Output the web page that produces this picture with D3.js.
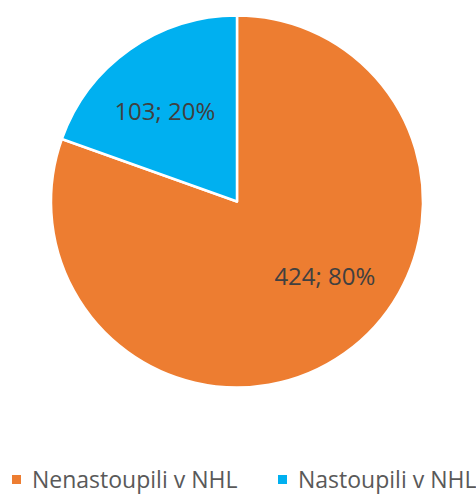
<!DOCTYPE html>
<html>
<head>
<meta charset="utf-8">
<script src="https://cdn.jsdelivr.net/npm/d3@7"></script>
<style>
  body { margin: 0; background: #fff; }
  svg { display: block; font-family: "Open Sans", sans-serif; }
</style>
</head>
<body>
<div id="chart"></div>
<script>
var categories = ["Nenastoupili v NHL", "Nastoupili v NHL"];
var values = [424, 103];
var colors = ["#ED7D31", "#00B0F0"];

var width = 476, height = 494;
var cx = 237, cy = 201.5, radius = 186;

var svg = d3.select("#chart").append("svg")
    .attr("width", width)
    .attr("height", height);

var total = d3.sum(values);
var data = categories.map(function (c, i) {
  return { name: c, value: values[i], color: colors[i] };
});

var pie = d3.pie().sort(null).value(function (d) { return d.value; });
var arc = d3.arc().innerRadius(0).outerRadius(radius);

var g = svg.append("g").attr("transform", "translate(" + cx + "," + cy + ")");

var slices = g.selectAll(".slice")
    .data(pie(data))
    .enter().append("g")
    .attr("class", "slice");

slices.append("path")
    .attr("d", arc)
    .attr("fill", function (d) { return d.data.color; })
    .attr("stroke", "#fff")
    .attr("stroke-width", 2.5)
    .attr("stroke-linejoin", "round");

// label placed a bit before the middle of each slice (like Excel's best fit)
var labelR = radius * 0.62;
function labelPos(d) {
  var a = d.startAngle + (d.endAngle - d.startAngle) * 0.45;
  return [labelR * Math.sin(a), -labelR * Math.cos(a)];
}

slices.append("text")
    .attr("transform", function (d) { return "translate(" + labelPos(d) + ")"; })
    .attr("text-anchor", "middle")
    .attr("dy", "0.35em")
    .attr("fill", "#404040")
    .style("font-size", "24px")
    .text(function (d) {
      return d.data.value + "; " + Math.round(d.data.value / total * 100) + "%";
    });

// legend
var legend = svg.append("g").attr("class", "legend");
var legendX = d3.scalePoint().domain(categories).range([12, 278]);

var item = legend.selectAll(".item")
    .data(data)
    .enter().append("g")
    .attr("class", "item")
    .attr("transform", function (d) { return "translate(" + legendX(d.name) + ",475)"; });

item.append("rect")
    .attr("width", 9)
    .attr("height", 9)
    .attr("fill", function (d) { return d.color; });

item.append("text")
    .attr("x", 20)
    .attr("y", 13)
    .attr("fill", "#595959")
    .style("font-size", "23px")
    .text(function (d) { return d.name; });
</script>
</body>
</html>
